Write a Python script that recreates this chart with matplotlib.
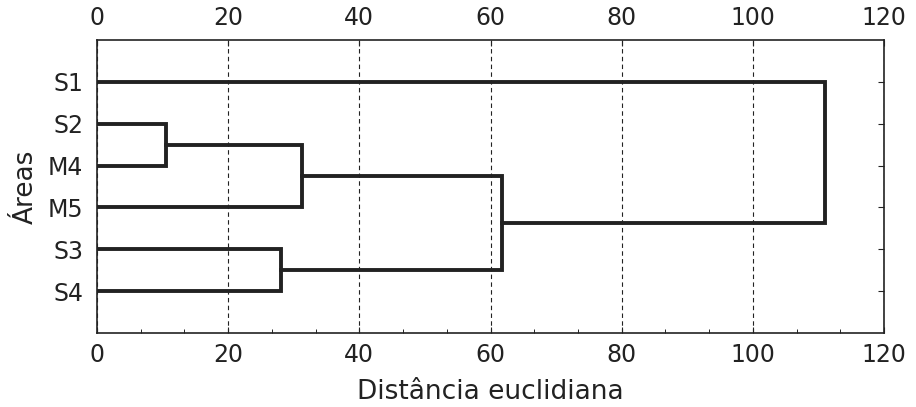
import matplotlib
matplotlib.use("Agg")
from matplotlib import pyplot as plt
from matplotlib.ticker import MultipleLocator

# leaves, top to bottom
labels = ['S1', 'S2', 'M4', 'M5', 'S3', 'S4']
# merges: (node a, node b, distance); new nodes get ids 6, 7, ...
merge_a = [1, 6, 4, 7, 0]
merge_b = [2, 3, 5, 8, 9]
merge_d = [10.5, 31.2, 28.0, 61.7, 111.0]

plt.rcParams['font.family'] = ['DejaVu Sans']
fig = plt.figure(figsize=(9.16, 4.07), dpi=100)
ax = fig.add_axes([0.1059, 0.1818, 0.8592, 0.7199])

pos = {i: (0.0, i + 1) for i in range(len(labels))}
node = len(labels)
for a, b, d in zip(merge_a, merge_b, merge_d):
    xa, ya = pos[a]
    xb, yb = pos[b]
    ax.plot([xa, d, d, xb], [ya, ya, yb, yb], color='#222222', lw=2.8,
            solid_joinstyle='miter', zorder=3)
    pos[node] = (d, (ya + yb) / 2)
    node += 1

ax.set_xlim(0, 120)
ax.set_ylim(7, 0)
ax.xaxis.set_major_locator(MultipleLocator(20))
ax.xaxis.set_minor_locator(MultipleLocator(20 / 3))
ax.grid(axis='x', which='major', color='#222222', ls=(0, (4, 3)), lw=0.8)
ax.set_yticks(range(1, len(labels) + 1))
ax.set_yticklabels(labels)

ax.tick_params(axis='x', which='major', direction='in', top=True, labeltop=True,
               labelsize=17, length=4, pad=7, colors='#222222')
ax.tick_params(axis='x', which='minor', direction='in', top=False, length=3)
ax.tick_params(axis='y', direction='in', left=False, right=True, length=4,
               labelsize=17, pad=10, colors='#222222')
for s in ax.spines.values():
    s.set_color('#222222')
    s.set_linewidth(1.2)

ax.set_xlabel('Distância euclidiana', fontsize=19, labelpad=9, color='#222222')
ax.set_ylabel('Áreas', fontsize=19, labelpad=6, color='#222222')

fig.savefig('out.png', dpi=100)
